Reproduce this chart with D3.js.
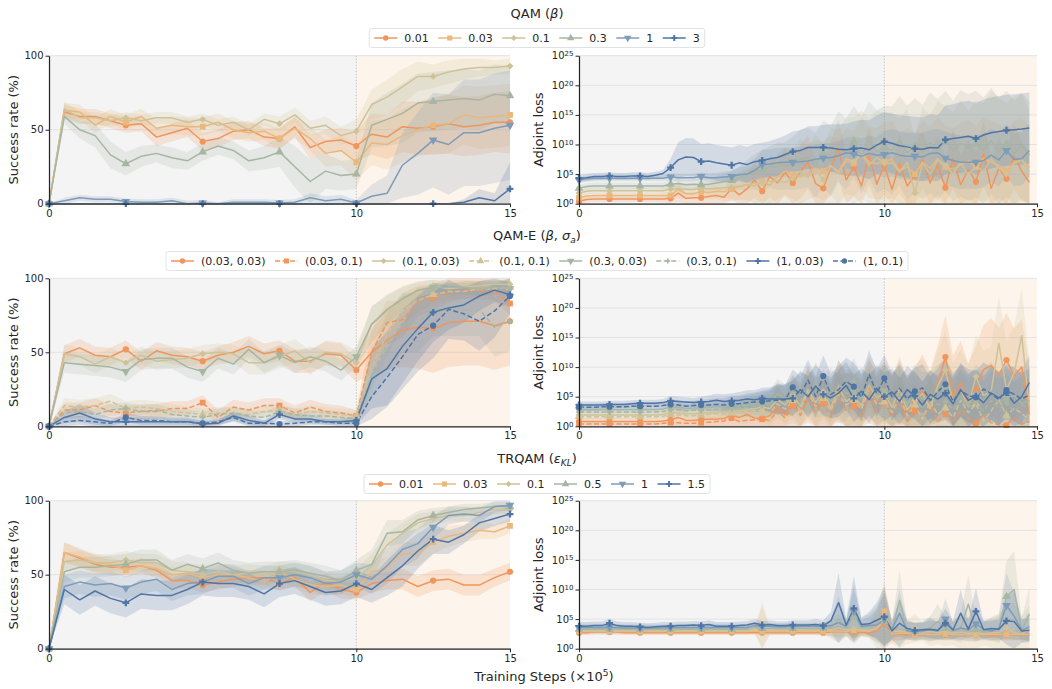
<!DOCTYPE html>
<html>
<head>
<meta charset="utf-8">
<script src="https://cdn.jsdelivr.net/npm/d3@7"></script>
<style>
  body { margin: 0; background: #fff; }
  svg { font-family: "DejaVu Sans", sans-serif; }
</style>
</head>
<body>
<svg id="chart" width="1052" height="689"></svg>
<script>
// ---- data ----
// success rate is evaluated every 0.5 x1e5 steps, adjoint loss every 0.25 x1e5 steps
const successSteps = d3.range(31).map(i => i * 0.5);
const lossSteps = d3.range(60).map(i => i * 0.25);
const xTicks = [0, 10, 15];
const successTicks = [0, 50, 100];
const lossTicks = [0, 5, 10, 15, 20, 25]; // log10 exponents

const palette = ['#f0955c', '#e8b87f', '#cfc298', '#a7b5a3', '#7e9cb8', '#4f75a5'];

// QAM (beta)
const qamLabels = ['0.01', '0.03', '0.1', '0.3', '1', '3'];
const qamSr001 = [0,62,59,59,56,53,54,45,48,51,42,44,49,50,45,44,52,38,42,43,39,47,45,52,51,52,54,52,53,55,55];
const qamSr003 = [0,63,62,53,59,55,59,51,53,52,52,55,50,48,49,44,51,44,34,36,28,41,40,46,50,53,54,60,58,59,60];
const qamSr01  = [0,64,58,58,56,58,56,58,58,55,57,53,55,50,57,54,60,51,53,46,49,67,72,79,86,86,89,91,92,92,93];
const qamSr03  = [0,59,50,46,33,27,32,34,31,29,35,39,36,29,31,35,25,15,22,19,20,53,57,61,68,69,70,71,70,74,73];
const qamSr1   = [0,2,4,3,3,1.5,1,1,2,0,0.5,0,1,1,1,0.5,1,4,2,3,0.5,5,7,26,34,43,40,48,48,51,53];
const qamSr3   = [0,0,0,0,0,0,0,0,0,0,0,0,0,0,0,0,0,0,0,0,0,0,0,0,0,0,0,1,4,2,10];
const qamSrSd001 = [0,5,5,5,5,5,5,6,6,6,6,6,6,6,6,7,7,8,8,8,10,14,15,17,18,19,20,20,20,20,21];
const qamSrSd003 = [0,5,5,5,5,5,5,6,6,6,6,6,6,6,6,7,7,8,9,10,12,15,17,18,18,19,20,20,21,21,21];
const qamSrSd01  = [0,5,4,4,4,4,4,4,4,4,4,4,4,4,4,5,5,5,6,6,8,10,12,12,10,8,8,7,6,5,5];
const qamSrSd03  = [0,5,6,8,9,8,7,6,7,6,6,6,6,7,8,10,14,15,12,10,10,15,18,20,20,20,20,20,20,20,20];
const qamSrSd1   = [0,2,2,2,2,2,2,2,2,2,2,1,2,2,2,2,2,3,3,3,2,8,12,22,28,32,34,36,36,37,37];
const qamSrSd3   = [0,0,0,0,0,0,0,0,0,0,0,0,0,0,0,0,0,0,0,0,0,0,0,0,0,0,0,2,6,5,18];

const qamLoss001 = [0.4,0.7,0.8,0.8,0.8,0.8,0.8,0.8,0.8,0.8,0.8,0.8, 0.9,1.8,0.9,1.0,1.0,1.2,1.4,1.1,2.6,1.5,2.5,4.0, 2.1,4.6,3.5,5.3,3.5,5.4,7.0,3.4,2.6,6.0,9.3,4.0, 6.2,3.0,8.2,3.3,6.5,2.4,6.8,3.0,4.8,7.5,3.5,6.5, 2.7,7.6,3.2,5.8,3.7,8.4,2.6,6.0,4.2,8.0,5.5,3.6];
const qamLoss003 = [1.0,1.3,1.4,1.4,1.4,1.4,1.4,1.4,1.4,1.4,1.4,1.4, 1.4,2.4,1.7,1.7,2.0,1.9,2.1,2.0,2.5,2.9,3.2,3.0, 3.8,3.1,4.5,5.5,5.0,4.5,5.2,6.0,5.5,6.5,5.2,7.2, 6.8,8.6,7.0,6.8,7.1,7.5,5.5,6.3,5.0,7.0,6.0,7.6, 6.2,5.8,6.6,7.2,6.2,7.7,7.0,6.5,5.5,7.0,7.4,6.1];
const qamLoss01  = [1.8,2.1,2.2,2.2,2.2,2.2,2.2,2.2,2.2,2.2,2.2,2.2, 2.5,2.5,2.4,2.4,2.6,2.5,2.6,2.7,2.8,3.0,3.2,3.4, 3.5,3.8,3.9,3.6,4.3,5.5,4.4,5.8,4.0,6.3,5.5,7.6, 7.1,8.3,6.5,7.8,6.8,6.9,5.4,7.0,1.8,6.8,5.0,7.4, 6.5,5.0,7.0,4.8,6.4,5.5,7.6,6.0,5.0,6.8,7.5,5.3];
const qamLoss03  = [2.6,2.9,3.0,3.0,3.0,3.0,3.0,3.0,3.0,3.0,3.0,3.0, 3.3,3.4,3.2,3.3,3.2,3.3,3.5,3.7,3.9,4.3,4.9,5.4, 5.6,6.2,6.3,6.4,6.8,7.5,7.8,6.5,8.5,7.2,9.6,8.4, 10.5,8.2,10.8,8.8,9.5,9.0,10.7,8.6,9.8,8.7,10.3,9.2, 10.6,8.9,10.2,9.5,10.1,9.0,10.6,8.8,10.1,8.5,9.8,8.2];
const qamLoss1   = [4.0,4.2,4.3,4.3,4.3,4.3,4.3,4.3,4.3,4.3,4.3,4.3, 4.5,4.4,4.4,4.4,4.6,4.4,4.4,4.5,4.6,4.9,5.0,5.6, 6.6,6.7,6.9,7.0,7.0,7.1,7.2,7.5,7.7,7.8,8.1,8.6, 8.4,8.0,8.5,8.2,8.3,8.6,8.2,8.0,8.0,7.9,8.5,8.6, 7.7,7.3,7.0,7.0,7.0,7.3,8.2,7.4,9.0,7.5,7.6,9.0];
const qamLoss3   = [4.3,4.4,4.6,4.6,4.7,4.6,4.6,4.7,4.7,4.6,4.8,5.1, 6.1,7.4,7.9,7.8,7.1,7.2,6.9,6.7,6.5,6.9,6.6,7.1, 7.3,7.6,7.8,8.3,8.8,9.0,9.5,9.5,9.5,9.4,9.2,9.1, 9.3,9.4,9.1,9.9,10.5,10.2,9.8,9.6,9.3,9.2,9.5,9.4, 10.8,11.0,11.2,11.4,11.0,11.6,12.0,12.2,12.4,12.5,12.6,12.8];
const qamLossSd001 = [0.5,0.5,0.5,0.5,0.5,0.5,0.5,0.5,0.5,0.5,0.5,0.6, 0.8,1.5,1.0,1.0,1.2,1.2,1.4,1.4,2.0,2.0,2.5,3.0, 3.0,3.5,3.5,4.0,4.0,4.5,4.5,4.0,4.0,4.5,5.0,4.5, 5.0,4.5,5.0,4.5,5.0,4.5,5.0,4.5,5.0,5.0,5.0,5.0, 5.0,5.0,5.0,5.0,5.0,5.5,5.0,5.0,5.0,5.5,5.0,5.0];
const qamLossSd003 = [0.5,0.5,0.5,0.5,0.5,0.5,0.5,0.5,0.5,0.5,0.5,0.6, 0.8,1.5,1.0,1.0,1.2,1.2,1.4,1.5,2.0,2.2,2.5,3.0, 3.2,3.5,3.8,4.0,4.2,4.5,4.5,4.8,5.0,5.0,5.5,5.5, 5.5,6.0,6.0,6.0,6.5,6.5,6.5,6.5,7.0,7.0,7.0,7.0, 7.0,7.0,7.0,7.0,7.0,7.0,7.0,7.0,7.0,7.0,7.0,7.0];
const qamLossSd01  = [0.5,0.5,0.5,0.5,0.5,0.5,0.5,0.5,0.5,0.5,0.5,0.6, 0.8,1.0,1.0,1.0,1.2,1.2,1.4,1.6,2.0,2.4,2.8,3.2, 3.5,4.0,4.0,4.5,5.0,5.5,5.5,6.0,6.0,6.5,7.0,7.0, 7.5,7.5,8.0,8.0,8.5,8.5,9.0,9.0,9.5,9.5,10,10, 10,10.5,10.5,11,11,11.5,11.5,12,12,11.5,11,10.5];
const qamLossSd03  = [0.6,0.6,0.6,0.6,0.6,0.6,0.6,0.6,0.6,0.6,0.6,0.6, 0.8,0.8,0.8,0.8,1.0,1.0,1.2,1.4,1.6,2.0,2.5,3.0, 3.5,3.5,4.0,4.0,4.5,5.0,5.0,5.5,5.5,6.0,6.0,6.0, 6.0,6.5,6.5,7.0,7.0,7.5,7.5,8.0,8.0,8.0,8.5,8.5, 8.5,8.5,9,9,9,9,9,9,9,9,9,9];
const qamLossSd1   = [0.5,0.5,0.5,0.5,0.5,0.5,0.5,0.5,0.5,0.5,0.5,0.5, 0.6,0.6,0.6,0.6,0.7,0.7,0.8,0.9,1.0,1.2,1.5,2.0, 2.5,2.5,2.5,2.5,2.5,2.5,2.5,2.5,2.5,2.5,2.5,2.5, 3,3,3,3,4,4,4,4,4,4,4,4, 4.5,4.5,4.5,4.5,4.5,4.5,4.5,4.5,4.5,4.5,4.5,4.5];
const qamLossSd3   = [0.6,0.6,0.6,0.6,0.6,0.6,0.6,0.6,0.6,0.6,0.6,0.6, 1.5,3.0,3.2,3.2,3.0,3.0,3.0,3.0,3.0,3.0,3.0,3.0, 3.0,3.0,3.2,3.2,3.4,3.4,3.6,3.6,3.8,4.0,4.2,4.4, 4.6,4.8,5.0,5.0,5.0,5.0,5.2,5.2,5.4,5.4,5.6,5.6, 5.8,5.8,6,6,6,6,6,6,6,6,6,6];

// QAM-E (beta, sigma_a)
const qameLabels = ['(0.03, 0.03)', '(0.03, 0.1)', '(0.1, 0.03)', '(0.1, 0.1)', '(0.3, 0.03)', '(0.3, 0.1)', '(1, 0.03)', '(1, 0.1)'];
const qameSr1 = [0,49,53,48,47,52,44,51,48,47,44,48,50,54,49,51,44,44,49,48,38,50,58,65,67,66,70,71,71,68,71];
const qameSr2 = [0,11,11,14,10,9,10,10,12,12,16,6,13,11,14,14,9,13,10,9,7,50,70,72,84,87,90,92,92,91,83];
const qameSr3 = [0,49,47,42,47,43,48,44,45,46,49,50,49,43,43,47,51,43,50,49,43,69,78,87,91,95,93,94,95,96,96];
const qameSr4 = [0,14,13,14,17,12,13,12,10,9,8,9,9,8,10,11,8,10,9,8,7,40,62,78,85,89,91,91,93,93,94];
const qameSr5 = [0,43,42,41,40,37,45,46,46,40,37,46,42,52,43,48,43,47,44,38,47,69,79,86,92,94,94,94,93,94,93];
const qameSr6 = [0,9,10,8,11,12,10,11,8,7,6,8,9,7,6,10,8,7,7,6,5,35,55,70,70,79,79,79,79,67,71];
const qameSr7 = [0,6,9,5,3,3,3,3,3,3,1.5,2,7,4,2,8,5,5,3,3,4,32,39,54,66,77,80,82,88,92,89];
const qameSr8 = [0,3,4,3,2,6,4,4,3,3,2,3,6,2,2,1.5,2,3,3,2,2,20,33,47,62,68,79,76,71,78,88];
const qameSrSd1 = [0,6,6,6,6,6,6,6,6,6,6,6,7,7,7,7,8,8,8,8,8,15,20,25,28,30,30,30,30,30,30];
const qameSrSd2 = [0,5,5,5,5,5,5,5,5,5,5,5,5,5,5,5,5,5,5,5,4,15,15,12,10,8,6,6,6,6,8];
const qameSrSd3 = [0,6,6,6,6,6,6,6,6,6,6,6,6,8,8,8,8,8,8,8,8,12,10,8,6,4,4,4,4,4,4];
const qameSrSd4 = [0,5,5,5,5,5,5,5,5,4,4,4,4,4,4,4,4,4,4,4,4,15,15,10,8,6,5,5,5,5,5];
const qameSrSd5 = [0,7,7,7,7,7,7,7,7,7,7,7,7,7,7,7,7,7,7,7,7,12,10,8,6,5,5,5,5,5,5];
const qameSrSd6 = [0,4,4,4,4,4,4,4,4,4,4,4,4,4,4,4,4,4,4,4,3,15,20,20,20,18,18,18,18,20,20];
const qameSrSd7 = [0,4,6,4,3,3,3,3,3,3,2,2,3,3,2,3,3,3,2,2,3,20,25,25,22,20,15,12,10,8,8];
const qameSrSd8 = [0,3,3,3,2,3,3,3,2,2,2,2,3,2,2,2,2,2,2,2,2,15,20,22,25,22,20,18,20,18,12];

const qameLoss1 = [0.8,0.8,0.8,0.8,0.8,0.8,0.8,0.8,0.8,0.8,0.8,0.9, 1.1,1.5,1.0,1.0,1.1,1.2,1.2,1.3,1.9,1.5,2.0,1.4, 1.3,1.8,3.4,2.0,4.5,2.7,5.8,3.2,4.8,3.0,6.2,4.4, 4.4,3.1,6.6,4.0,6.0,3.4,5.8,2.5,3.8,6.2,2.9,7.2, 11.7,5.0,7.4,3.6,6.1,9.6,10.3,8.6,11.2,8.5,10.0,2.0];
const qameLoss2 = [0.4,0.4,0.4,0.4,0.4,0.4,0.4,0.4,0.4,0.4,0.4,0.5, 0.6,0.6,0.5,0.5,0.6,0.7,0.8,0.9,1.4,0.8,1.0,1.1, 1.2,1.0,2.6,1.4,3.5,1.9,4.6,2.3,3.8,1.5,5.2,2.7, 3.4,1.6,5.0,2.6,4.0,1.8,4.4,0.9,2.6,1.3,3.6,0.8, 2.0,0.7,2.8,1.4,0.5,1.9,0.6,0.3,0.2,1.5,0.4,0.8];
const qameLoss3 = [1.9,1.9,1.9,1.9,1.9,1.9,1.9,1.9,1.9,1.9,1.9,2.0, 2.3,2.2,2.1,2.1,2.2,2.3,2.4,2.4,2.5,2.6,2.8,3.0, 3.2,3.0,4.5,3.6,5.3,3.4,6.2,4.0,5.8,3.1,6.6,4.2, 5.0,3.5,7.0,4.8,5.6,3.2,6.3,2.8,4.4,5.5,3.0,6.8, 9.5,4.1,6.0,3.4,8.4,5.2,6.0,14.0,6.2,9.0,15.3,3.0];
const qameLoss4 = [1.6,1.6,1.6,1.6,1.6,1.6,1.6,1.6,1.6,1.6,1.6,1.7, 2.0,1.9,1.8,1.8,1.9,2.0,2.1,2.1,2.2,2.3,2.5,2.7, 2.6,2.2,3.8,2.9,4.3,2.7,5.8,3.3,4.7,2.6,5.5,3.6, 4.4,2.9,6.0,3.7,4.1,2.4,5.0,1.8,3.6,1.2,4.2,2.0, 3.1,1.5,4.4,2.3,3.8,0.9,2.6,4.5,1.8,3.0,2.2,1.0];
const qameLoss5 = [2.8,2.8,2.8,2.8,2.8,2.8,2.8,2.8,2.8,2.8,2.8,2.9, 3.3,3.2,3.0,3.1,3.1,3.2,3.3,3.3,3.4,3.5,3.6,3.7, 3.8,3.9,5.5,4.6,4.8,6.5,5.0,7.3,5.2,4.2,7.1,5.5, 6.0,4.6,7.2,5.1,6.0,4.4,5.3,3.8,5.8,4.6,4.8,5.9, 6.4,4.1,5.0,3.6,5.4,4.3,6.0,3.9,4.7,5.2,3.8,4.4];
const qameLoss6 = [2.4,2.4,2.4,2.4,2.4,2.4,2.4,2.4,2.4,2.4,2.4,2.5, 2.8,2.8,2.6,2.7,2.7,2.8,2.9,2.9,3.0,3.1,3.2,3.3, 3.5,3.7,4.8,4.0,5.6,4.3,6.1,4.8,5.3,6.4,4.5,5.0, 7.6,4.8,5.8,4.4,5.5,4.0,6.2,3.4,4.8,3.0,5.1,3.6, 4.2,2.8,4.5,3.2,3.9,2.6,4.4,3.0,4.0,2.5,3.6,3.2];
const qameLoss7 = [3.6,3.6,3.6,3.6,3.7,3.7,3.7,3.8,3.9,3.9,3.9,4.0, 4.3,4.2,4.1,4.0,4.1,4.2,4.4,4.2,4.3,4.4,4.6,4.5, 4.7,4.6,4.6,4.6,4.7,6.2,5.0,6.8,5.4,4.8,5.6,6.9, 4.7,5.9,4.5,6.4,5.0,5.8,4.2,6.2,5.1,3.6,5.4,4.6, 5.6,3.8,6.2,4.4,5.1,4.0,5.6,4.8,5.7,3.9,5.0,7.4];
const qameLoss8 = [3.2,3.2,3.2,3.3,3.3,3.3,3.3,3.4,3.4,3.4,3.4,3.5, 3.7,3.6,3.4,3.5,3.6,3.6,3.7,3.6,3.8,3.8,4.0,4.1, 4.2,4.3,4.4,4.5,6.6,5.4,7.8,5.0,8.5,5.4,6.2,7.6, 6.7,4.9,8.8,5.6,8.1,5.0,6.4,4.6,5.9,6.5,4.4,5.8, 7.1,4.2,6.0,5.2,4.9,6.3,5.5,4.5,6.1,5.4,4.6,5.3];
const qameLossSd1 = [0.6,0.6,0.6,0.6,0.6,0.6,0.6,0.6,0.6,0.6,0.6,0.6, 0.8,2.5,1.0,1.0,1.0,1.2,1.2,1.4,2.0,1.8,2.2,2.0, 2.0,2.5,3.5,3.0,4.0,3.5,4.5,4.0,4.5,4.0,5.0,4.5, 4.5,4.5,5.0,4.5,5.0,5.0,5.5,5.5,6.0,6.0,6.5,6.5, 7,7,7,7,7.5,7.5,8,8,8,8,8,8];
const qameLossSd2 = [0.5,0.5,0.5,0.5,0.5,0.5,0.5,0.5,0.5,0.5,0.5,0.5, 0.6,0.8,0.8,0.8,0.9,1.0,1.0,1.2,1.5,1.4,1.6,1.8, 2.0,2.0,3.0,2.5,3.5,3.0,4.0,3.5,4.0,3.5,4.5,4.0, 4.0,4.0,4.5,4.0,4.5,4.0,4.5,4.0,4.5,4.0,4.5,4.0, 4,4,4,4,4,4,4,4,4,4,4,4];
const qameLossSd3 = [0.6,0.6,0.6,0.6,0.6,0.6,0.6,0.6,0.6,0.6,0.6,0.6, 0.8,0.8,0.8,0.8,0.9,1.0,1.0,1.2,1.4,1.5,1.8,2.0, 2.2,2.5,3.0,3.0,3.5,3.5,4.0,4.0,4.0,4.0,4.5,4.5, 4.5,4.5,5.0,5.0,5.0,5.0,5.5,5.5,6.0,6.0,6.0,6.0, 6.5,6.5,7,7,7,7.5,7.5,8,8,8,8,8];
const qameLossSd4 = [0.5,0.5,0.5,0.5,0.5,0.5,0.5,0.5,0.5,0.5,0.5,0.5, 0.6,0.6,0.6,0.6,0.7,0.8,0.9,1.0,1.2,1.3,1.5,1.7, 2,2,2.5,2.5,3,3,3.5,3.5,3.5,3.5,4,4, 4,4,4,4,4,4,4.5,4.5,4.5,4.5,4.5,4.5, 5,5,5,5,5,5,5,5,5,5,5,5];
const qameLossSdSage = [0.6,0.6,0.6,0.6,0.6,0.6,0.6,0.6,0.6,0.6,0.6,0.6, 0.7,0.7,0.7,0.7,0.8,0.9,1.0,1.1,1.2,1.4,1.6,1.8, 2,2.2,2.5,2.5,3,3,3.5,3.5,3.5,3.5,4,4, 4,4,4,4,4.5,4.5,4.5,4.5,4.5,4.5,4.5,4.5, 5,5,5,5,5,5,5,5,5,5,5,5];
const qameLossSdBlue = [0.6,0.6,0.6,0.6,0.6,0.6,0.6,0.6,0.6,0.6,0.6,0.6, 0.8,0.8,0.8,0.8,0.9,1.0,1.1,1.2,1.3,1.4,1.5,1.6, 1.8,2,2.5,2.5,3,3,3.5,3.5,3.5,3.5,4,4, 4,4,4,4,4,4,4,4,4,4,4,4, 4.5,4.5,4.5,4.5,4.5,4.5,4.5,4.5,4.5,4.5,4.5,4.5];

// TRQAM (eps_KL)
const trLabels = ['0.01', '0.03', '0.1', '0.5', '1', '1.5'];
const trSr001 = [0,65,61,57,55,55,56,53,46,46,43,45,47,48,48,44,48,38,45,40,38,44,46,47,42,46,47,43,43,48,52];
const trSr003 = [0,65,62,58,57,53,56,54,50,51,48,50,50,48,45,52,47,43,42,43,40,52,54,64,64,72,76,78,80,79,83];
const trSr01  = [0,59,60,58,58,60,58,58,53,52,50,52,50,51,50,53,52,50,46,45,48,56,70,78,85,88,90,90,92,94,94];
const trSr05  = [0,52,55,55,56,57,60,60,53,57,54,58,53,51,52,52,53,51,49,46,53,57,78,79,87,90,92,94,95,96,96];
const trSr1   = [0,42,45,43,44,41,45,47,40,44,45,49,49,44,48,48,50,48,44,45,50,47,56,67,71,82,90,91,90,96,97];
const trSr15  = [0,40,33,39,34,31,37,36,36,40,45,44,44,42,37,44,46,42,38,39,44,40,48,56,66,74,72,77,85,88,91];
const trSrSd001 = [0,7,6,6,5,5,5,5,5,5,5,5,5,5,5,5,6,6,6,6,5,6,6,7,7,7,7,7,7,6,6];
const trSrSd003 = [0,7,6,6,5,5,5,5,5,5,5,5,5,5,5,5,6,6,6,6,5,6,8,8,8,8,7,6,6,5,5];
const trSrSd01  = [0,6,6,6,6,6,6,6,6,6,6,6,6,6,6,6,6,6,6,6,6,8,8,7,6,5,4,4,4,3,3];
const trSrSd05  = [0,7,7,7,7,7,7,7,7,7,7,7,7,7,7,7,7,7,7,7,7,10,9,8,6,5,4,4,3,3,3];
const trSrSd1   = [0,8,8,8,8,8,8,8,8,8,8,8,8,8,8,8,8,8,8,8,8,10,12,12,10,8,6,5,5,4,3];
const trSrSd15  = [0,10,10,10,10,10,10,10,10,10,9,9,9,9,9,9,9,9,9,9,9,9,12,14,12,10,8,6,6,5,5];

const trLoss001 = [2.7,2.7,2.8,2.8,2.8,2.8,2.7,2.7,2.7,2.7,2.7,2.7, 2.7,2.7,2.7,2.7,2.7,2.7,2.7,2.7,2.7,2.7,2.7,2.7, 2.7,2.7,2.7,2.7,2.7,2.7,2.7,2.7,2.7,2.8,2.9,2.8, 2.8,2.7,2.7,3.0,4.3,2.5,2.4,2.4,2.4,2.4,2.4,2.4, 2.4,2.4,2.4,2.4,2.4,2.4,2.2,2.3,2.3,2.3,2.3,2.3];
const trLoss003 = [2.9,2.9,2.9,2.9,2.9,2.9,2.9,2.9,2.9,2.9,2.9,2.9, 2.9,2.9,2.9,2.9,2.9,2.9,2.9,2.9,2.9,2.9,2.9,3.0, 2.9,2.9,2.9,2.9,2.9,2.9,2.9,2.9,2.9,3.0,3.0,2.9, 3.1,3.0,2.9,3.4,6.3,2.5,2.6,2.6,2.4,2.5,2.4,2.4, 2.5,2.4,2.4,2.4,2.4,2.4,2.4,2.4,2.4,2.4,2.4,2.4];
const trLoss01  = [3.0,3.0,3.0,3.0,3.0,3.0,3.0,3.0,3.0,3.0,3.0,3.0, 3.0,3.0,3.0,3.0,3.0,3.0,3.0,3.0,3.0,3.0,3.0,3.3, 3.1,3.1,3.1,3.1,3.1,3.1,3.1,3.1,3.2,3.2,3.5,3.2, 3.3,3.2,3.1,3.4,4.8,2.9,3.0,2.8,3.5,2.8,2.9,2.7, 2.9,2.6,2.8,2.6,2.8,2.5,2.7,2.7,3.5,2.7,2.5,3.3];
const trLoss05  = [3.3,3.3,3.3,3.3,3.3,3.3,3.3,3.3,3.3,3.3,3.3,3.3, 3.3,3.3,3.3,3.3,3.3,3.3,3.3,3.3,3.3,3.3,3.3,3.6, 3.4,3.4,3.4,3.4,3.4,3.5,3.4,3.4,3.5,3.5,5.0,3.5, 5.5,3.6,3.8,4.1,4.5,3.0,8.2,3.0,2.9,3.2,3.5,4.6, 3.4,3.0,3.5,7.5,3.2,3.0,3.3,3.4,8.8,10.0,3.1,5.8];
const trLoss1   = [3.6,3.6,3.6,3.6,3.6,3.6,3.5,3.5,3.5,3.5,3.5,3.5, 3.6,3.6,3.6,3.6,3.6,3.6,3.6,3.6,3.6,3.6,3.6,3.9, 3.8,3.8,3.7,3.7,3.8,3.8,3.8,3.8,3.8,3.9,4.4,3.8, 6.3,3.8,3.9,4.0,5.0,3.3,6.0,3.0,2.9,3.0,3.2,3.0, 5.0,3.1,3.5,3.2,4.2,3.3,3.0,3.4,7.3,5.5,3.1,3.7];
const trLoss15  = [3.8,3.8,3.9,3.9,4.3,3.9,3.8,3.8,3.7,3.6,3.7,3.8, 3.8,3.9,3.9,4.0,3.9,4.1,3.8,3.8,3.8,3.9,4.0,4.3, 4.0,4.1,3.9,3.9,4.0,4.0,4.0,4.1,3.9,4.7,7.8,4.0, 6.8,4.1,4.2,4.8,5.4,3.0,4.3,3.4,3.1,3.2,3.3,3.1, 4.3,3.2,6.0,3.3,6.3,3.2,3.4,3.3,4.7,4.6,3.0,3.1];
const trLossSd001 = [0.4,0.4,0.4,0.4,0.4,0.4,0.4,0.4,0.4,0.4,0.4,0.4, 0.4,0.4,0.4,0.4,0.4,0.4,0.4,0.4,0.4,0.4,0.4,0.4, 0.4,0.4,0.4,0.4,0.4,0.4,0.4,0.4,0.5,0.6,1.0,0.6, 1.0,0.6,0.6,1.5,4.0,1.0,1.0,0.8,0.8,0.8,0.8,0.8, 0.8,0.8,0.8,0.8,0.8,0.8,0.8,0.8,0.8,0.8,0.8,0.8];
const trLossSd003 = [0.5,0.5,0.5,0.5,0.5,0.5,0.5,0.5,0.5,0.5,0.5,0.5, 0.5,0.5,0.5,0.5,0.5,0.5,0.5,0.5,0.5,0.5,0.5,0.5, 5.0,0.6,0.6,0.6,0.6,0.6,0.6,0.6,0.6,0.8,1.5,0.8, 2.0,0.8,0.8,2.5,5.0,1.5,1.2,1.0,1.0,1.0,1.0,1.0, 1.0,1.0,1.0,1.0,1.0,1.0,1.0,1.0,1.0,1.0,1.0,1.0];
const trLossSd01  = [0.5,0.5,0.5,0.5,0.5,0.5,0.5,0.5,0.5,0.5,0.5,0.5, 0.5,0.5,0.5,0.5,0.5,0.5,0.5,0.5,0.5,0.5,0.5,0.5, 4.0,0.6,0.6,0.6,0.6,0.6,0.6,0.6,0.8,1.5,2.5,1.0, 2.5,1.0,1.2,3.5,6.0,2.0,3.0,2.0,2.5,1.5,2.5,2.0, 2.5,2.0,3.0,2.5,3.0,2.0,2.5,3.0,4.0,5.0,3.0,4.0];
const trLossSd05  = [0.6,0.6,0.6,0.6,0.6,0.6,0.6,0.6,0.6,0.6,0.6,0.6, 0.6,0.6,0.6,0.6,0.6,0.6,0.6,0.6,0.6,0.6,0.6,0.6, 0.8,0.6,0.6,0.6,0.6,0.6,0.6,0.6,0.8,1.5,4.0,1.5, 4.5,1.5,2.0,3.0,5.0,1.5,5.0,1.5,1.5,1.5,2.0,3.0, 2.0,1.5,2.5,5.0,2.0,1.5,2.0,2.5,6.0,6.5,2.0,4.5];
const trLossSd1   = [0.6,0.6,0.6,0.6,0.6,0.6,0.6,0.6,0.6,0.6,0.6,0.6, 0.6,0.6,0.6,0.6,0.6,0.6,0.6,0.6,0.6,0.6,0.6,0.6, 0.6,0.6,0.6,0.6,0.6,0.6,0.6,0.6,0.6,1.0,3.5,1.0, 4.5,1.0,1.5,2.5,4.5,1.5,4.0,1.5,1.5,1.5,2.0,1.5, 3.5,1.5,2.0,2.0,3.0,1.5,1.5,2.0,5.5,4.0,1.5,2.5];
const trLossSd15  = [0.7,0.7,0.7,0.7,0.7,0.7,0.7,0.7,0.7,0.7,0.7,0.7, 0.7,0.7,0.7,0.7,0.7,0.7,0.7,0.7,0.7,0.7,0.7,0.7, 0.7,0.7,0.7,0.7,0.8,0.8,0.8,0.9,0.9,1.5,5.0,1.0, 5.5,1.2,2.0,3.0,5.0,1.5,4.0,1.5,1.2,1.2,1.5,1.5, 2.5,1.5,4.0,1.5,4.0,1.5,1.5,1.5,4.0,5.0,2.0,2.0];

// ---- series tables ----
const qamSeries = [
  { label: qamLabels[0], color: palette[0], marker: 'o', sr: qamSr001, srSd: qamSrSd001, loss: qamLoss001, lossSd: qamLossSd001 },
  { label: qamLabels[1], color: palette[1], marker: 's', sr: qamSr003, srSd: qamSrSd003, loss: qamLoss003, lossSd: qamLossSd003 },
  { label: qamLabels[2], color: palette[2], marker: 'D', sr: qamSr01, srSd: qamSrSd01, loss: qamLoss01, lossSd: qamLossSd01 },
  { label: qamLabels[3], color: palette[3], marker: '^', sr: qamSr03, srSd: qamSrSd03, loss: qamLoss03, lossSd: qamLossSd03 },
  { label: qamLabels[4], color: palette[4], marker: 'v', sr: qamSr1, srSd: qamSrSd1, loss: qamLoss1, lossSd: qamLossSd1 },
  { label: qamLabels[5], color: palette[5], marker: 'P', sr: qamSr3, srSd: qamSrSd3, loss: qamLoss3, lossSd: qamLossSd3 }
];
const qameSeries = [
  { label: qameLabels[0], color: palette[0], marker: 'o', sr: qameSr1, srSd: qameSrSd1, loss: qameLoss1, lossSd: qameLossSd1 },
  { label: qameLabels[1], color: palette[0], marker: 's', dashed: true, sr: qameSr2, srSd: qameSrSd2, loss: qameLoss2, lossSd: qameLossSd2 },
  { label: qameLabels[2], color: palette[2], marker: 'D', sr: qameSr3, srSd: qameSrSd3, loss: qameLoss3, lossSd: qameLossSd3 },
  { label: qameLabels[3], color: palette[2], marker: '^', dashed: true, sr: qameSr4, srSd: qameSrSd4, loss: qameLoss4, lossSd: qameLossSd4 },
  { label: qameLabels[4], color: palette[3], marker: 'v', sr: qameSr5, srSd: qameSrSd5, loss: qameLoss5, lossSd: qameLossSdSage },
  { label: qameLabels[5], color: palette[3], marker: '+', dashed: true, sr: qameSr6, srSd: qameSrSd6, loss: qameLoss6, lossSd: qameLossSdSage },
  { label: qameLabels[6], color: palette[5], marker: 'P', sr: qameSr7, srSd: qameSrSd7, loss: qameLoss7, lossSd: qameLossSdBlue },
  { label: qameLabels[7], color: palette[5], marker: 'o', dashed: true, sr: qameSr8, srSd: qameSrSd8, loss: qameLoss8, lossSd: qameLossSdBlue }
];
const trSeries = [
  { label: trLabels[0], color: palette[0], marker: 'o', sr: trSr001, srSd: trSrSd001, loss: trLoss001, lossSd: trLossSd001 },
  { label: trLabels[1], color: palette[1], marker: 's', sr: trSr003, srSd: trSrSd003, loss: trLoss003, lossSd: trLossSd003 },
  { label: trLabels[2], color: palette[2], marker: 'D', sr: trSr01, srSd: trSrSd01, loss: trLoss01, lossSd: trLossSd01 },
  { label: trLabels[3], color: palette[3], marker: '^', sr: trSr05, srSd: trSrSd05, loss: trLoss05, lossSd: trLossSd05 },
  { label: trLabels[4], color: palette[4], marker: 'v', sr: trSr1, srSd: trSrSd1, loss: trLoss1, lossSd: trLossSd1 },
  { label: trLabels[5], color: palette[5], marker: 'P', sr: trSr15, srSd: trSrSd15, loss: trLoss15, lossSd: trLossSd15 }
];

// ---- layout ----
const svg = d3.select('#chart');
const defs = svg.append('defs');
const CENTER_X = 537;
const LEFT = [49, 510];
const RIGHT = [579, 1037];
const PLOT_H = 148;
const INK = '#262626';

const rows = [
  { top: 55.7, titleY: 13, legendY: 38, title: [['QAM (', 0], ['β', 1], [')', 0]], series: qamSeries },
  { top: 278.3, titleY: 235, legendY: 261, title: [['QAM-E (', 0], ['β', 1], [', ', 0], ['σ', 1], ['a', 2], [')', 3]], series: qameSeries },
  { top: 500.7, titleY: 458, legendY: 484, title: [['TRQAM (', 0], ['ε', 1], ['KL', 2], [')', 3]], series: trSeries }
];

const markerSizes = { o: 30, s: 34, D: 30, '^': 32, v: 32, '+': 18, P: 26 };
function markerPath(m, scale) {
  const k = scale || 1;
  const types = {
    o: d3.symbolCircle, s: d3.symbolSquare, D: d3.symbolDiamond2,
    '^': d3.symbolTriangle, v: d3.symbolTriangle, '+': d3.symbolCross, P: d3.symbolCross
  };
  return d3.symbol(types[m], markerSizes[m] * k)();
}

function styleAxis(ax) {
  ax.attr('font-family', null).attr('font-size', null);
  ax.select('.domain').attr('stroke', INK).attr('stroke-width', 1.25);
  ax.selectAll('.tick line').attr('stroke', INK).attr('stroke-width', 1);
  ax.selectAll('.tick text').attr('fill', INK).style('font-size', '10px');
}

function drawPanel(row, kind, id) {
  const isLoss = kind === 'loss';
  const steps = isLoss ? lossSteps : successSteps;
  const [x0, x1] = isLoss ? RIGHT : LEFT;
  const top = row.top, bottom = row.top + PLOT_H;
  const yMax = isLoss ? 25 : 100;
  const yTicks = isLoss ? lossTicks : successTicks;

  const x = d3.scaleLinear().domain([0, 15]).range([x0, x1]);
  const y = d3.scaleLinear().domain([0, yMax]).range([bottom, top]);

  const g = svg.append('g');

  // shaded phases
  g.append('rect')
    .attr('x', x(0)).attr('y', top)
    .attr('width', x(10) - x(0)).attr('height', bottom - top)
    .attr('fill', '#f4f4f4');
  g.append('rect')
    .attr('x', x(10)).attr('y', top)
    .attr('width', x(15) - x(10)).attr('height', bottom - top)
    .attr('fill', '#fdf4ec');

  // grid
  g.selectAll('.grid')
    .data(yTicks)
    .enter().append('line')
    .attr('class', 'grid')
    .attr('x1', x0).attr('x2', x1)
    .attr('y1', d => y(d)).attr('y2', d => y(d))
    .attr('stroke', '#e3e3e3')
    .attr('stroke-width', 1);

  g.append('line')
    .attr('x1', x(10)).attr('x2', x(10))
    .attr('y1', top).attr('y2', bottom)
    .attr('stroke', '#c4c4c4')
    .attr('stroke-dasharray', '1.5,1.5');

  const clipId = 'clip-' + id;
  defs.append('clipPath').attr('id', clipId)
    .append('rect')
    .attr('x', x0).attr('y', top)
    .attr('width', x1 - x0).attr('height', bottom - top);
  const plot = g.append('g').attr('clip-path', `url(#${clipId})`);

  // std bands
  row.series.forEach(s => {
    const vals = isLoss ? s.loss : s.sr;
    const sds = isLoss ? s.lossSd : s.srSd;
    const area = d3.area()
      .x((d, i) => x(steps[i]))
      .y0((d, i) => y(Math.max(0, d - (sds[i] || 0))))
      .y1((d, i) => y(Math.min(yMax, d + (sds[i] || 0))));
    plot.append('path')
      .datum(vals)
      .attr('d', area)
      .attr('fill', s.color)
      .attr('fill-opacity', 0.2);
  });

  // mean lines
  row.series.forEach(s => {
    const vals = isLoss ? s.loss : s.sr;
    const line = d3.line()
      .x((d, i) => x(steps[i]))
      .y(d => y(d));
    plot.append('path')
      .datum(vals)
      .attr('d', line)
      .attr('fill', 'none')
      .attr('stroke', s.color)
      .attr('stroke-width', 1.5)
      .attr('stroke-linejoin', 'round')
      .attr('stroke-dasharray', s.dashed ? '5,2.5' : null);
  });

  // markers (every 2.5 steps for success, every step for loss)
  const every = isLoss ? 4 : 5;
  row.series.forEach(s => {
    const vals = isLoss ? s.loss : s.sr;
    const pts = vals.map((v, i) => [steps[i], v]).filter((d, i) => i % every === 0);
    g.selectAll(null)
      .data(pts)
      .enter().append('path')
      .attr('d', markerPath(s.marker))
      .attr('fill', s.color)
      .attr('transform', d => `translate(${x(d[0])},${y(d[1])})` + (s.marker === 'v' ? ' rotate(180)' : ''));
  });

  // axes
  const axY = g.append('g')
    .attr('transform', `translate(${x0},0)`)
    .call(d3.axisLeft(y).tickValues(yTicks).tickSizeInner(3.5).tickSizeOuter(0).tickPadding(2));
  styleAxis(axY);
  if (isLoss) {
    axY.selectAll('.tick text').text(null).each(function(d) {
      const t = d3.select(this);
      t.append('tspan').text('10');
      t.append('tspan').attr('dy', '-0.45em').style('font-size', '7px').text(d);
    });
  }
  const axX = g.append('g')
    .attr('transform', `translate(0,${bottom})`)
    .call(d3.axisBottom(x).tickValues(xTicks).tickSizeInner(3.5).tickSizeOuter(0).tickPadding(2.5));
  styleAxis(axX);

  svg.append('text')
    .attr('transform', `translate(${isLoss ? 538 : 13},${(top + bottom) / 2}) rotate(-90)`)
    .attr('text-anchor', 'middle')
    .attr('dy', '0.35em')
    .attr('fill', INK)
    .style('font-size', '13px')
    .text(isLoss ? 'Adjoint loss' : 'Success rate (%)');
}

function drawTitle(row) {
  const t = svg.append('text')
    .attr('x', CENTER_X).attr('y', row.titleY)
    .attr('dy', '0.35em')
    .attr('text-anchor', 'middle')
    .attr('fill', INK)
    .style('font-size', '13px');
  row.title.forEach(([txt, kind]) => {
    const sp = t.append('tspan').text(txt);
    if (kind === 1) sp.style('font-style', 'italic');
    if (kind === 2) sp.style('font-style', 'italic').style('font-size', '9px').attr('dy', 3);
    if (kind === 3) sp.attr('dy', -3);
  });
}

function drawLegend(row) {
  const g = svg.append('g');
  const box = g.append('rect');
  const pad = 5, handle = 23, textGap = 7, colGap = 9.5;
  let cursor = pad;
  row.series.forEach(s => {
    const it = g.append('g').attr('transform', `translate(${cursor},0)`);
    it.append('line')
      .attr('x1', 0).attr('x2', handle)
      .attr('stroke', s.color).attr('stroke-width', 1.5)
      .attr('stroke-dasharray', s.dashed ? '5,2.5' : null);
    it.append('path')
      .attr('d', markerPath(s.marker, 0.75))
      .attr('fill', s.color)
      .attr('transform', `translate(${handle / 2},0)` + (s.marker === 'v' ? ' rotate(180)' : ''));
    const txt = it.append('text')
      .attr('x', handle + textGap)
      .attr('dy', '0.35em')
      .attr('fill', INK)
      .style('font-size', '11px')
      .text(s.label);
    cursor += handle + textGap + txt.node().getComputedTextLength() + colGap;
  });
  const width = cursor - colGap + pad;
  box.attr('x', 0).attr('y', -9.5)
    .attr('width', width).attr('height', 19)
    .attr('rx', 2.5)
    .attr('fill', '#fff').attr('fill-opacity', 0.85)
    .attr('stroke', '#dadada').attr('stroke-width', 0.8);
  g.attr('transform', `translate(${CENTER_X - width / 2},${row.legendY})`);
}

rows.forEach((row, r) => {
  drawPanel(row, 'success', 's' + r);
  drawPanel(row, 'loss', 'l' + r);
  drawTitle(row);
  drawLegend(row);
});

// shared x label
const xl = svg.append('text')
  .attr('x', 544).attr('y', 676)
  .attr('dy', '0.35em')
  .attr('text-anchor', 'middle')
  .attr('fill', INK)
  .style('font-size', '13px');
xl.append('tspan').text('Training Steps (×10');
xl.append('tspan').attr('dy', -5).style('font-size', '9px').text('5');
xl.append('tspan').attr('dy', 5).text(')');
</script>
</body>
</html>
